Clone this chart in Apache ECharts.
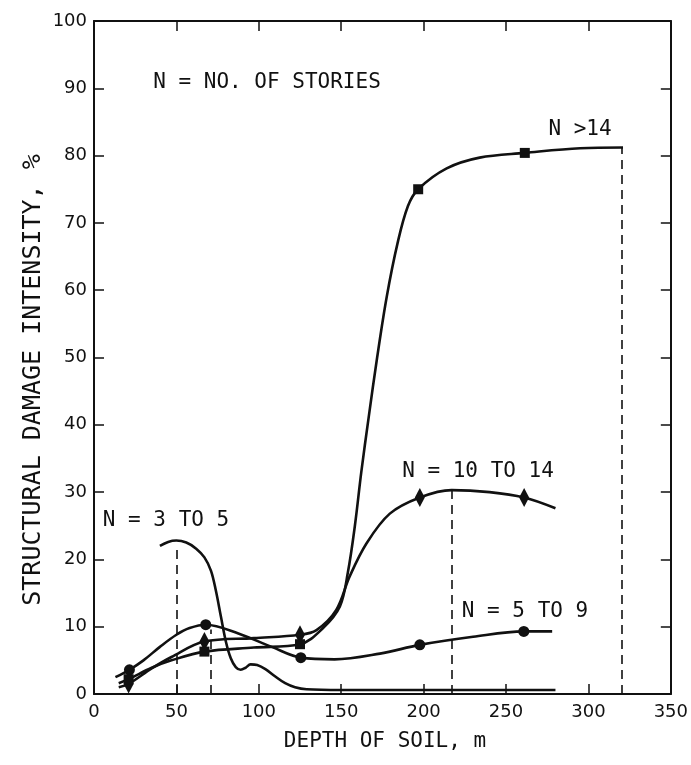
<!DOCTYPE html>
<html>
<head>
<meta charset="utf-8">
<script src="https://cdn.jsdelivr.net/npm/echarts@6/dist/echarts.min.js"></script>
<style>
  html, body { margin: 0; padding: 0; background: #fff; }
  #chart { width: 691px; height: 765px; }
</style>
</head>
<body>
<div id="chart"></div>
<script>
// Structural damage intensity (%) against depth of soil (m), one curve per building height class.

// N = 3 to 5 stories (curve only)
const depthN3to5  = [40, 45, 50, 56, 62, 67, 71, 74, 77, 80, 83, 86, 89, 92, 95, 99, 104, 110, 116, 122, 129, 150, 200, 280];
const damageN3to5 = [22.0, 22.6, 22.8, 22.5, 21.6, 20.3, 18.3, 15.3, 11.5, 7.8, 5.3, 4.0, 3.6, 3.9, 4.4, 4.3, 3.7, 2.6, 1.6, 1.0, 0.7, 0.6, 0.6, 0.6];

// N = 5 to 9 stories (circles)
const depthN5to9  = [13, 21.5, 30, 40, 50, 58, 67.8, 87.6, 107.8, 125.5, 146, 173.5, 197.7, 230, 260.8, 278];
const damageN5to9 = [2.5, 3.6, 5.0, 7.0, 8.8, 9.8, 10.3, 9.0, 7.0, 5.4, 5.15, 6.0, 7.3, 8.5, 9.3, 9.3];
const markedN5to9 = [1, 6, 9, 12, 14];

// N = 10 to 14 stories (diamonds)
const depthN10to14  = [15, 21, 35, 47, 67, 97, 125, 135, 147, 155, 165.4, 179.5, 197.7, 217, 240, 261, 280];
const damageN10to14 = [1.0, 1.5, 3.8, 5.5, 7.8, 8.3, 8.8, 9.5, 12.5, 17.4, 22.4, 26.8, 29.2, 30.3, 30.0, 29.2, 27.6];
const markedN10to14 = [1, 4, 6, 12, 15];

// N > 14 stories (squares)
const depthN14  = [15, 21, 35, 47, 67, 97, 125, 139, 149.2, 154, 158.3, 162.2, 166.6, 171.8, 177.6, 184.2, 190.5, 196.7, 214, 234, 261.4, 295, 321];
const damageN14 = [1.6, 2.2, 3.9, 5.0, 6.3, 6.9, 7.4, 9.8, 13.0, 18.0, 25.0, 33.0, 41.0, 50.0, 59.0, 67.0, 72.5, 75.0, 78.1, 79.7, 80.4, 81.1, 81.2];
const markedN14 = [1, 4, 6, 17, 20];

// Vertical dashed reference lines (depth, damage at top end)
const guideDepth  = [50, 71, 217, 320];
const guideDamage = [22.0, 9.6, 30.3, 81.2];

// Axis ranges: min, max, step
const depthRange  = [0, 350, 50];
const damageRange = [0, 100, 10];

const ink = '#111';
const pairs = (xs, ys) => xs.map((x, i) => [x, ys[i]]);
const pick = (xs, ys, idx) => idx.map(i => [xs[i], ys[i]]);

const chart = echarts.init(document.getElementById('chart'), null, { renderer: 'canvas' });

const tickFont = { fontFamily: 'DejaVu Sans', fontSize: 18, color: ink };
const mono = (size) => size + 'px "DejaVu Sans Mono"';

function curve(name, xs, ys) {
  return {
    name, type: 'line', data: pairs(xs, ys), smooth: 0.35,
    symbol: 'none', lineStyle: { color: ink, width: 2.6 },
    silent: true, z: 3
  };
}
function marks(name, xs, ys, idx, symbol, size) {
  return {
    name, type: 'scatter', data: pick(xs, ys, idx), symbol, symbolSize: size,
    itemStyle: { color: ink, opacity: 1 }, silent: true, z: 4
  };
}
function note(text, x, y, size, rotation) {
  return {
    type: 'text', x, y, rotation: rotation || 0,
    style: { text, font: mono(size), fill: ink, align: 'center', verticalAlign: 'middle' }
  };
}

const axisBase = {
  type: 'value',
  axisLine: { show: true, onZero: false, lineStyle: { color: ink, width: 2 } },
  axisTick: { show: true, inside: true, length: 10, lineStyle: { color: ink, width: 1.5 } },
  splitLine: { show: false }
};

chart.setOption({
  animation: false,
  backgroundColor: '#fff',
  grid: { left: 94, top: 21, width: 577, height: 673 },
  xAxis: [
    Object.assign({}, axisBase, {
      position: 'bottom', min: depthRange[0], max: depthRange[1], interval: depthRange[2],
      axisLabel: Object.assign({ margin: 9 }, tickFont)
    }),
    Object.assign({}, axisBase, {
      position: 'top', min: depthRange[0], max: depthRange[1], interval: depthRange[2],
      axisLabel: { show: false }
    })
  ],
  yAxis: [
    Object.assign({}, axisBase, {
      position: 'left', min: damageRange[0], max: damageRange[1], interval: damageRange[2],
      axisLabel: Object.assign({ margin: 7 }, tickFont)
    }),
    Object.assign({}, axisBase, {
      position: 'right', min: damageRange[0], max: damageRange[1], interval: damageRange[2],
      axisLabel: { show: false }
    })
  ],
  series: [
    curve('N = 3 TO 5', depthN3to5, damageN3to5),
    curve('N = 5 TO 9', depthN5to9, damageN5to9),
    curve('N = 10 TO 14', depthN10to14, damageN10to14),
    curve('N >14', depthN14, damageN14),
    marks('N = 5 TO 9 points', depthN5to9, damageN5to9, markedN5to9, 'circle', 11),
    marks('N = 10 TO 14 points', depthN10to14, damageN10to14, markedN10to14, 'diamond', [10, 19]),
    marks('N >14 points', depthN14, damageN14, markedN14, 'rect', [10, 10]),
    {
      name: 'guides', type: 'line', data: [], silent: true, z: 2,
      markLine: {
        silent: true, symbol: 'none', animation: false, label: { show: false },
        lineStyle: { color: ink, width: 1.6, type: [9, 6] },
        data: guideDepth.map((d, i) => [{ coord: [d, 0] }, { coord: [d, guideDamage[i]] }])
      }
    }
  ],
  graphic: [
    note('N = NO. OF STORIES', 267, 83, 21),
    note('N >14', 580, 130, 21),
    note('N = 10 TO 14', 478, 472, 21),
    note('N = 5 TO 9', 525, 612, 21),
    note('N = 3 TO 5', 166, 521, 21),
    note('DEPTH OF SOIL, m', 385, 742, 21),
    note('STRUCTURAL DAMAGE INTENSITY, %', 33, 380, 25, Math.PI / 2)
  ]
});
</script>
</body>
</html>
